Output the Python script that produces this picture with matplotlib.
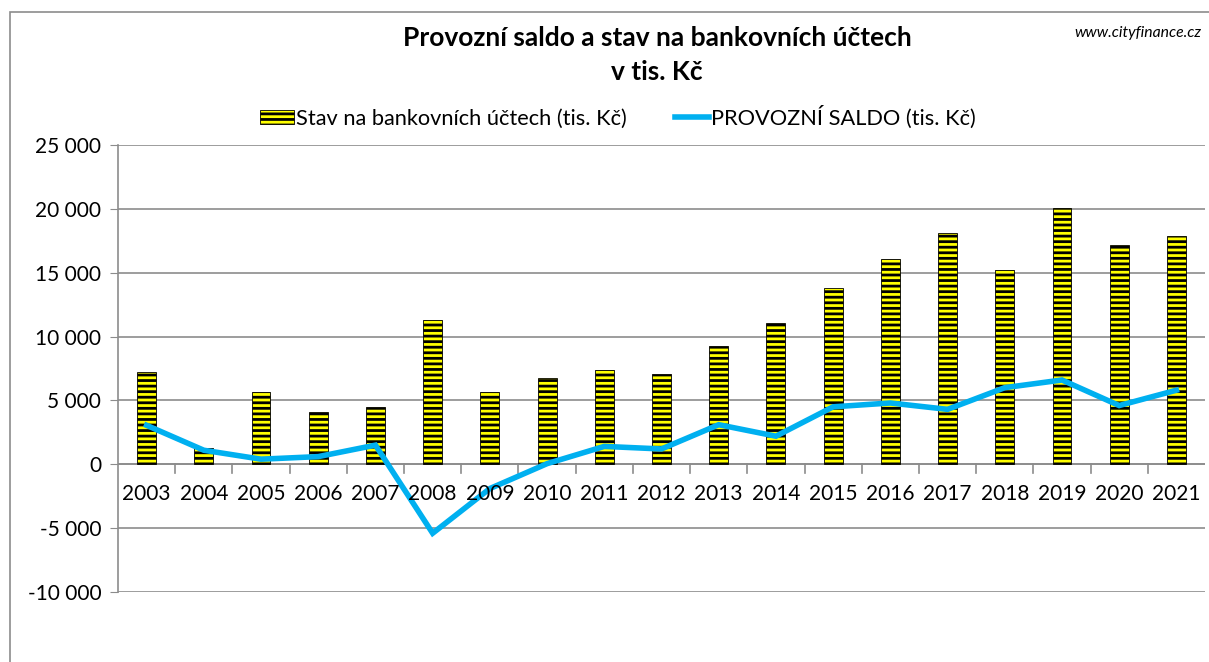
'''
Provozni saldo a stav na bankovnich uctech, v tis. Kc
'''

import matplotlib.pyplot as plt
import matplotlib.patches as patches
import matplotlib.ticker as ticker
import numpy as np

#######################################################

years = ['2003', '2004', '2005', '2006', '2007', '2008', '2009', '2010', '2011', '2012',
         '2013', '2014', '2015', '2016', '2017', '2018', '2019', '2020', '2021']

# stav na bankovnich uctech (tis. Kc)
stav = [7200, 1250, 5650, 4100, 4500, 11300, 5650, 6750, 7400, 7100,
        9250, 11100, 13800, 16100, 18100, 15200, 20100, 17150, 17850]

# provozni saldo (tis. Kc)
saldo = [3050, 1100, 400, 600, 1500, -5400, -1900, 50, 1400, 1200,
         3100, 2200, 4500, 4800, 4300, 6000, 6600, 4600, 5800]

yticks = [-10000, -5000, 0, 5000, 10000, 15000, 20000, 25000]

#######################################################

plt.rcParams['font.family'] = ['Lato', 'DejaVu Sans']
plt.rcParams['hatch.linewidth'] = 2.0
plt.rcParams['hatch.color'] = 'black'

fig = plt.figure(figsize=(12.09, 6.62), dpi=100)
ax = fig.add_axes([118/1209, 1-592/662, (1205-118)/1209, (592-145)/662])

# chart border (cropped Excel chart)
fig.patches.append(patches.Rectangle((10/1209, -0.1), 1.2, 1-12/662+0.1,
                   transform=fig.transFigure, fill=False, ec='#8c8c8c', lw=1.2))

x = np.arange(len(years))
bars = ax.bar(x, stav, width=0.33, color='#ffff00', edgecolor='black', linewidth=0.6,
              hatch='---', label='Stav na bankovních účtech (tis. Kč)', zorder=2)
line, = ax.plot(x, saldo, color='#00b0f0', lw=4, label='PROVOZNÍ SALDO (tis. Kč)',
                zorder=3, solid_joinstyle='miter')

ax.set_xlim(-0.5, len(years)-0.5)
ax.set_ylim(-10000, 25000)
ax.set_yticks(yticks)
ax.yaxis.set_major_formatter(ticker.FuncFormatter(lambda v, p: f'{int(v):,}'.replace(',', ' ')))
ax.grid(axis='y', color='#8c8c8c', lw=1.2, zorder=0)
ax.set_axisbelow(True)

for s in ['top', 'right', 'bottom']:
    ax.spines[s].set_visible(False)
ax.spines['left'].set_color('#8c8c8c')
ax.spines['left'].set_linewidth(1.2)
ax.axhline(0, color='#8c8c8c', lw=1.2, zorder=1)

ax.tick_params(axis='y', length=6, color='#8c8c8c', labelsize=15, pad=6)
ax.set_xticks([])
for i, yr in enumerate(years):
    ax.text(i, -2350, yr, ha='center', va='center', fontsize=15)
for b in np.arange(0.5, len(years)-1, 1.0):
    ax.plot([b, b], [0, -700], color='#8c8c8c', lw=1.2, zorder=1, clip_on=False)

fig.text(657/1209, 1-38/662, 'Provozní saldo a stav na bankovních účtech',
         ha='center', va='center', fontsize=19, fontweight='bold')
fig.text(657/1209, 1-72/662, 'v tis. Kč', ha='center', va='center',
         fontsize=19, fontweight='bold')
fig.text(1138/1209, 1-33/662, 'www.cityfinance.cz', ha='center', va='center',
         fontsize=11.3, style='italic')

fig.legend([bars, line], [bars.get_label(), line.get_label()],
           loc='center', bbox_to_anchor=(618/1209, 1-117/662), ncol=2, frameon=False,
           fontsize=15.7, handlelength=1.55, handleheight=0.6, handletextpad=0.1,
           columnspacing=2.2)

plt.savefig('out.png', dpi=100)
